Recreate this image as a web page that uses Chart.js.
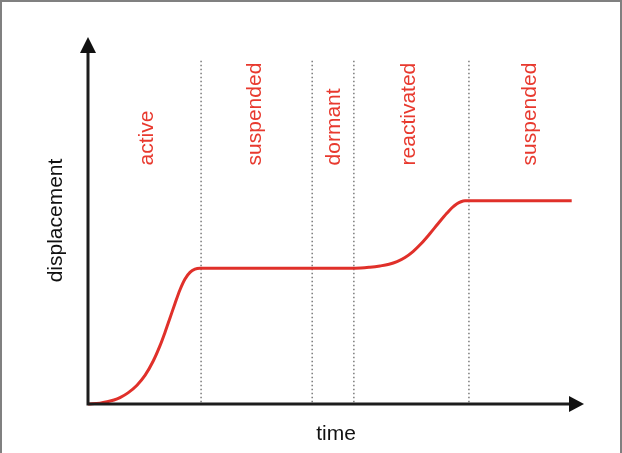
<!DOCTYPE html>
<html>
<head>
<meta charset="utf-8">
<script src="https://cdn.jsdelivr.net/npm/chart.js@4.4.1/dist/chart.umd.min.js"></script>
<style>
  html, body { margin: 0; padding: 0; background: #fff; }
  #wrap { position: relative; width: 622px; height: 453px; }
  #wrap::after {
    content: ''; position: absolute; left: 0; top: 0; right: 0; bottom: 0;
    border: 2px solid #808080; border-bottom: none; pointer-events: none;
  }
  canvas { display: block; }
</style>
</head>
<body>
<div id="wrap"><canvas id="chart" width="622" height="453"></canvas></div>
<script>
/* displacement vs time — landslide activity phases */

// curve (time and displacement, both on a 0..100 scale)
const curveTime = [0, 2.42, 3.83, 5.24, 6.45, 8.06, 9.88, 11.49, 13.10, 14.52, 15.52, 16.53, 17.54, 18.55, 19.56, 20.56, 21.57, 22.58,
  53.83, 56.85, 58.87, 60.69, 62.30, 63.91, 65.52, 67.14, 68.95, 70.56, 72.38, 73.39, 74.40, 75.20, 76.01, 97.52];
const curveDisp = [0, 0.24, 0.59, 1.08, 1.75, 3.04, 5.13, 7.79, 11.57, 15.90, 19.50, 23.44, 27.38, 31.12, 34.05, 35.85, 36.76, 37.0,
  37.0, 37.27, 37.61, 38.07, 38.79, 39.92, 41.53, 43.64, 46.45, 49.11, 52.02, 53.48, 54.59, 55.12, 55.35, 55.35];

// phase boundaries (dotted lines) and phase names
const phaseBounds = [22.8, 45.2, 53.6, 76.8];
const boundTop = 93.7;
const phaseNames = ['active', 'suspended', 'dormant', 'reactivated', 'suspended'];
const phaseLabelAt = [13.1, 34.9, 50.9, 65.9, 90.3];
const phaseLabelBase = 65;

const axisTitles = { x: 'time', y: 'displacement' };

const RED_LINE = '#e0302a', RED_TEXT = '#e8392e', FONT = '"Liberation Sans", Arial, sans-serif';

const boundSets = phaseBounds.map(b => ({
  data: [{ x: b, y: 0.5 }, { x: b, y: boundTop }],
  borderColor: '#7a7a7a', borderWidth: 1.5, borderDash: [1.5, 2.5],
  pointRadius: 0, fill: false, order: 2,
}));

const axesPlugin = {
  id: 'axes',
  afterDatasetsDraw(chart) {
    const { ctx, scales: { x, y } } = chart;
    const x0 = x.getPixelForValue(0), x1 = x.getPixelForValue(100);
    const y0 = y.getPixelForValue(0), y1 = y.getPixelForValue(100);
    ctx.save();
    ctx.strokeStyle = '#1c1c1c'; ctx.fillStyle = '#111'; ctx.lineWidth = 3; ctx.lineCap = 'square';
    ctx.beginPath();
    ctx.moveTo(x0, y0); ctx.lineTo(x1 - 12, y0);
    ctx.moveTo(x0, y0); ctx.lineTo(x0, y1 + 12);
    ctx.stroke();
    // arrow heads
    ctx.beginPath(); ctx.moveTo(x1, y0); ctx.lineTo(x1 - 15, y0 - 8); ctx.lineTo(x1 - 15, y0 + 8); ctx.closePath(); ctx.fill();
    ctx.beginPath(); ctx.moveTo(x0, y1); ctx.lineTo(x0 - 8, y1 + 16); ctx.lineTo(x0 + 8, y1 + 16); ctx.closePath(); ctx.fill();

    // axis titles
    ctx.font = '21px ' + FONT; ctx.fillStyle = '#111';
    ctx.textAlign = 'center'; ctx.textBaseline = 'alphabetic';
    ctx.fillText(axisTitles.x, (x0 + x1) / 2, y0 + 36);
    ctx.save();
    ctx.translate(x0 - 26, (y0 + y1) / 2);
    ctx.rotate(-Math.PI / 2);
    ctx.fillText(axisTitles.y, 0, 0);
    ctx.restore();

    // phase names
    ctx.fillStyle = RED_TEXT; ctx.textAlign = 'left';
    phaseNames.forEach((name, i) => {
      ctx.save();
      ctx.translate(x.getPixelForValue(phaseLabelAt[i]), y.getPixelForValue(phaseLabelBase));
      ctx.rotate(-Math.PI / 2);
      ctx.fillText(name, 0, 0);
      ctx.restore();
    });
    ctx.restore();
  }
};

new Chart(document.getElementById('chart'), {
  type: 'line',
  data: {
    datasets: [
      ...boundSets,
      {
        data: curveTime.map((t, i) => ({ x: t, y: curveDisp[i] })),
        borderColor: RED_LINE, borderWidth: 3, pointRadius: 0, fill: false,
        cubicInterpolationMode: 'monotone', order: 1,
      },
    ],
  },
  options: {
    responsive: false, animation: false, events: [],
    layout: { padding: { left: 88, right: 38, top: 37, bottom: 49 } },
    plugins: { legend: { display: false }, tooltip: { enabled: false } },
    scales: {
      x: { type: 'linear', min: 0, max: 100, display: false },
      y: { type: 'linear', min: 0, max: 100, display: false },
    },
    elements: { line: { borderJoinStyle: 'round', borderCapStyle: 'butt' } },
    clip: false,
  },
  plugins: [axesPlugin],
});
</script>
</body>
</html>
